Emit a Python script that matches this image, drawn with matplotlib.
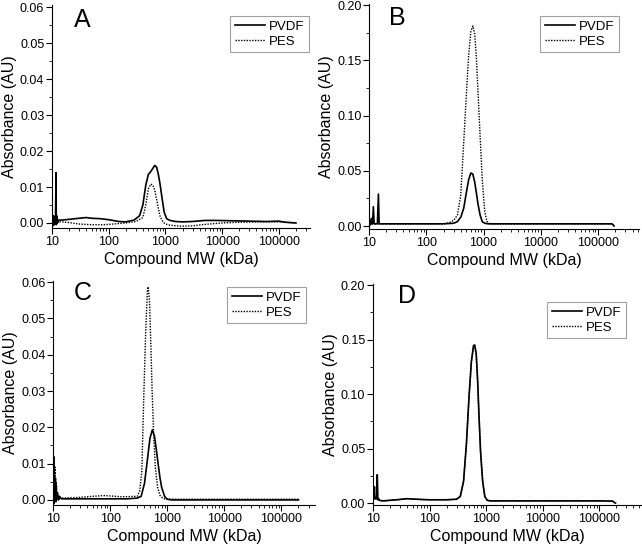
import numpy as np
import matplotlib
matplotlib.use("Agg")
import matplotlib.pyplot as plt
from matplotlib.ticker import FixedLocator, MultipleLocator, NullFormatter, FormatStrFormatter

plt.rcParams['font.family'] = ['Liberation Sans', 'DejaVu Sans']

# ---- data (MW in kDa, absorbance in AU) ----
# Panel A
a_pvdf_mw = [10, 10.3, 10.6, 10.9, 11.2, 11.5, 11.8, 11.9, 12.1, 12.5, 13, 15, 20, 30, 40, 50, 70, 100,
             150, 200, 280, 350, 400, 450, 500, 550, 600, 650, 700, 750, 800, 870, 950, 1050, 1200,
             1500, 2000, 3000, 5000, 8000, 15000, 30000, 60000, 100000, 130000, 200000]
a_pvdf = [0.001, -0.0008, 0.002, -0.0005, 0.0015, 0.0, 0.014, -0.0005, 0.002, 0.0, 0.0008, 0.0008,
          0.001, 0.0013, 0.0015, 0.0013, 0.0012, 0.0009, 0.0004, 0.0003, 0.0008, 0.002, 0.005, 0.0105,
          0.0135, 0.0143, 0.0152, 0.016, 0.0155, 0.0135, 0.011, 0.007, 0.003, 0.0012, 0.0007, 0.0004,
          0.0003, 0.0004, 0.0007, 0.0007, 0.0006, 0.0005, 0.0004, 0.0005, 0.0002, 0.0]
a_pes_mw = [10, 10.5, 11, 11.5, 12, 13, 15, 20, 30, 50, 80, 120, 200, 300, 400, 450, 500, 550, 600,
            650, 700, 750, 800, 900, 1000, 1200, 1500, 2000, 3000, 5000, 10000, 20000, 50000, 100000,
            150000, 200000]
a_pes = [0.0, 0.001, -0.0005, 0.0008, 0.0002, 0.0003, 0.0003, 0.0001, -0.0003, -0.0005, -0.0005,
         -0.0003, 0.0, 0.0004, 0.0015, 0.005, 0.0095, 0.0108, 0.0105, 0.009, 0.0065, 0.004, 0.002,
         0.0003, -0.0003, -0.0006, -0.0008, -0.0009, -0.0008, -0.0004, 0.0, 0.0002, 0.0003, 0.0003,
         0.0001, 0.0]

# Panel B
b_pvdf_mw = [10, 10.4, 10.6, 11, 11.5, 11.9, 12.3, 13, 14, 14.6, 15, 16, 20, 50, 100, 200, 300, 350,
             400, 450, 500, 550, 600, 650, 700, 750, 800, 870, 950, 1050, 1200, 2000, 10000, 100000,
             175000, 180000, 190000]
b_pvdf = [0.002, 0.005, 0.001, 0.007, 0.002, 0.0175, 0.002, 0.002, 0.002, 0.029, 0.002, 0.002, 0.002,
          0.002, 0.002, 0.002, 0.0025, 0.004, 0.008, 0.016, 0.03, 0.042, 0.048, 0.047, 0.04, 0.03,
          0.02, 0.01, 0.004, 0.0025, 0.002, 0.002, 0.002, 0.002, 0.002, 0.0015, 0.0]
b_pes_mw = [10, 20, 100, 200, 250, 300, 350, 400, 450, 500, 550, 600, 650, 700, 750, 800, 870, 950,
            1050, 1150, 1300, 2000, 10000, 100000, 180000, 190000]
b_pes = [0.002, 0.002, 0.002, 0.002, 0.003, 0.005, 0.01, 0.028, 0.075, 0.118, 0.155, 0.176, 0.181,
         0.174, 0.152, 0.122, 0.082, 0.042, 0.013, 0.004, 0.002, 0.002, 0.002, 0.002, 0.002, 0.0]

# Panel C
c_pvdf_mw = [10, 10.2, 10.4, 10.6, 10.8, 11, 11.2, 11.4, 11.6, 12, 12.5, 13, 14, 15, 20, 50, 100, 200,
             300, 350, 400, 450, 500, 550, 600, 650, 700, 750, 800, 900, 1000, 1200, 2000, 10000,
             100000, 200000]
c_pvdf = [0.0, 0.004, -0.001, 0.005, 0.0, 0.006, -0.0005, 0.004, 0.0, 0.002, 0.0, 0.001, 0.0003,
          0.0003, 0.0003, 0.0003, 0.0003, 0.0003, 0.0005, 0.001, 0.0045, 0.011, 0.017, 0.0193, 0.0175,
          0.0135, 0.0095, 0.006, 0.0035, 0.001, 0.0002, 0.0, 0.0, 0.0, 0.0, 0.0]
c_pes_mw = [10, 10.2, 10.4, 10.5, 10.7, 10.9, 11.1, 11.3, 11.6, 12, 13, 15, 20, 30, 50, 80, 100, 150,
            200, 300, 330, 360, 390, 420, 450, 465, 490, 520, 545, 580, 620, 680, 750, 850, 1000,
            2000, 10000, 100000, 200000]
c_pes = [0.0, 0.008, 0.001, 0.012, 0.002, 0.009, 0.001, 0.005, 0.0005, 0.0008, 0.0005, 0.0005,
         0.0006, 0.0007, 0.001, 0.0012, 0.0011, 0.0009, 0.0009, 0.001, 0.0025, 0.008, 0.029, 0.046,
         0.0575, 0.0587, 0.055, 0.042, 0.03, 0.018, 0.009, 0.0035, 0.0012, 0.0004, 0.0002, 0.0002,
         0.0002, 0.0002, 0.0002]

# Panel D
d_pvdf_mw = [10, 10.4, 10.6, 10.8, 11.2, 11.6, 11.9, 12.2, 12.6, 13, 15, 20, 30, 40, 50, 70, 100, 200,
             300, 350, 400, 450, 500, 550, 600, 630, 670, 710, 750, 800, 870, 950, 1050, 1200, 2000,
             10000, 100000, 175000, 185000, 195000]
d_pvdf = [0.003, 0.005, 0.015, 0.004, 0.005, 0.004, 0.026, 0.003, 0.004, 0.0025, 0.002, 0.0025,
          0.0033, 0.004, 0.0037, 0.0033, 0.003, 0.003, 0.0035, 0.006, 0.02, 0.055, 0.098, 0.13, 0.1445,
          0.145, 0.137, 0.112, 0.08, 0.047, 0.02, 0.006, 0.0025, 0.002, 0.002, 0.002, 0.002, 0.0018,
          0.0005, 0.0]
d_pes_mw = [10, 10.5, 11, 11.5, 12, 13, 15, 20, 30, 40, 50, 70, 100, 200, 300, 350, 400, 450, 500,
            550, 600, 630, 670, 710, 750, 800, 870, 950, 1050, 1200, 2000, 10000, 100000, 175000,
            185000, 195000]
d_pes = [0.003, 0.006, 0.003, 0.004, 0.003, 0.0025, 0.002, 0.0025, 0.0033, 0.004, 0.0037, 0.0033,
         0.003, 0.003, 0.0035, 0.006, 0.02, 0.054, 0.097, 0.129, 0.1435, 0.144, 0.136, 0.111, 0.079,
         0.046, 0.02, 0.006, 0.0025, 0.002, 0.002, 0.002, 0.002, 0.0018, 0.0005, 0.0]

panels = [
    # letter, pvdf, pes, axes rect, xmax, ylim, ymajor, legend anchor, letter pos
    ("A", (a_pvdf_mw, a_pvdf), (a_pes_mw, a_pes), [0.081, 0.5855, 0.402, 0.4045], 3.55e5,
     (-0.0014, 0.0605), 0.01, (0.996, 0.953), (0.085, 0.99)),
    ("B", (b_pvdf_mw, b_pvdf), (b_pes_mw, b_pes), [0.5748, 0.5836, 0.4206, 0.4091], 5.2e5,
     (-0.0027, 0.2009), 0.05, (0.926, 0.947), (0.074, 0.99)),
    ("C", (c_pvdf_mw, c_pvdf), (c_pes_mw, c_pes), [0.0826, 0.0818, 0.4081, 0.4073], 3.9e5,
     (-0.0014, 0.0603), 0.01, (0.966, 0.973), (0.08, 1.0)),
    ("D", (d_pvdf_mw, d_pvdf), (d_pes_mw, d_pes), [0.581, 0.0818, 0.4174, 0.4018], 5.5e5,
     (-0.0018, 0.2009), 0.05, (0.944, 0.919), (0.093, 1.0)),
]

fig = plt.figure(figsize=(6.42, 5.50), dpi=100)

for letter, pvdf, pes, rect, xmax, ylim, ystep, leg_anchor, let_pos in panels:
    ax = fig.add_axes(rect)
    ax.plot(pvdf[0], pvdf[1], color='black', lw=1.2, ls='-', label='PVDF')
    ax.plot(pes[0], pes[1], color='black', lw=1.0, ls=(0, (1, 1)), label='PES')
    ax.set_xscale('log')
    ax.set_xlim(10, xmax)
    ax.set_ylim(*ylim)

    ax.set_xticks([10, 100, 1000, 10000, 100000], ['10', '100', '1000', '10000', '100000'])
    ax.xaxis.set_minor_locator(FixedLocator([m * 10**e for e in range(1, 6) for m in range(2, 10)]))
    ax.xaxis.set_minor_formatter(NullFormatter())
    ax.yaxis.set_major_locator(MultipleLocator(ystep))
    ax.yaxis.set_minor_locator(MultipleLocator(ystep / 2))
    ax.yaxis.set_major_formatter(FormatStrFormatter('%.2f'))

    for s in ['top', 'right']:
        ax.spines[s].set_visible(False)
    ax.tick_params(which='major', direction='out', length=4, width=0.8, labelsize=9, pad=1.5)
    ax.tick_params(which='minor', direction='out', length=2, width=0.6)

    ax.set_xlabel('Compound MW (kDa)', fontsize=11.5, labelpad=3)
    ax.set_ylabel('Absorbance (AU)', fontsize=11.5, labelpad=2)

    ax.text(let_pos[0], let_pos[1], letter, transform=ax.transAxes, fontsize=18,
            ha='left', va='top')

    leg = ax.legend(loc='upper right', bbox_to_anchor=leg_anchor, borderaxespad=0,
                    fontsize=9.5, frameon=True, fancybox=False, handlelength=2.3,
                    handletextpad=0.3, borderpad=0.35, labelspacing=0.2)
    leg.get_frame().set_edgecolor('#888888')
    leg.get_frame().set_linewidth(0.8)

fig.savefig('out.png', dpi=100)
